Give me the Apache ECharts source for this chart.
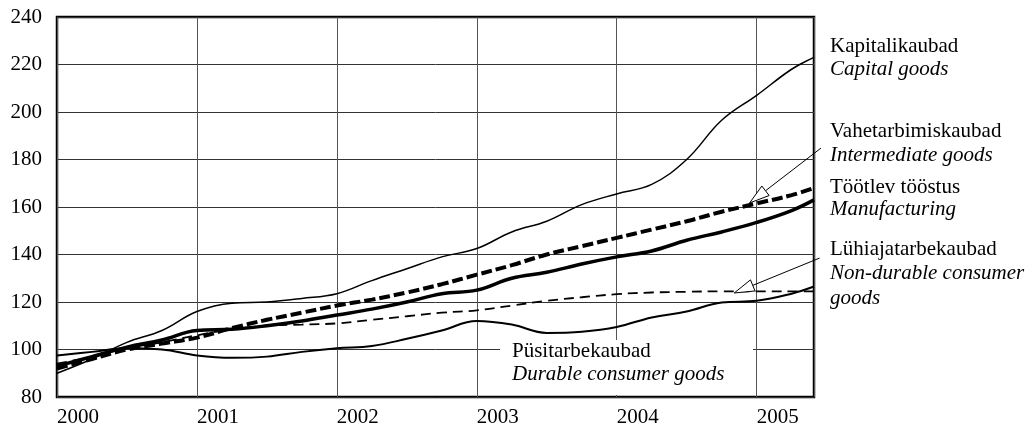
<!DOCTYPE html>
<html>
<head>
<meta charset="utf-8">
<script src="https://cdn.jsdelivr.net/npm/echarts@6/dist/echarts.min.js"></script>
<style>
  html, body { margin: 0; padding: 0; background: #fff; }
  #chart { width: 1031px; height: 436px; }
</style>
</head>
<body>
<div id="chart"></div>
<script>
// years since Jan 2000
var xs = [0, 0.25, 0.5, 0.75, 1, 1.25, 1.5, 1.75, 2, 2.25, 2.5, 2.75, 3, 3.25, 3.5, 3.75, 4, 4.25, 4.5, 4.75, 5, 5.25, 5.41];
var capital = [90, 96, 103, 108, 116, 119.5, 120, 121.5, 123.5, 129, 134, 139, 142.5, 149.5, 154, 161, 165.5, 169.5, 180, 196.5, 207, 218, 223];
var intermediate = [92, 96, 100, 102.5, 105, 109, 112.5, 115.5, 118.5, 121, 124, 127.5, 131.5, 135.5, 140, 143.5, 147, 150.5, 154, 158, 161.5, 165, 168];
var manufacturing = [93, 97, 101, 104, 108, 108.5, 110, 112, 114.5, 117, 120, 123.5, 125, 130, 132.5, 136, 139, 141.5, 146, 149.5, 153.5, 158.5, 163];
var nonDurable = [94, 97, 100.5, 103, 106, 108.5, 110, 110.5, 111, 112.5, 114, 115.5, 116.5, 118.5, 120.5, 122, 123.3, 124, 124.3, 124.5, 124.5, 124.5, 124.5];
var durable = [97.5, 99, 100.5, 100, 97.5, 96.5, 97, 99, 100.5, 101.5, 104.5, 108, 112, 110.5, 107, 107.5, 109.5, 113.5, 116, 119.8, 120.5, 123.5, 126.5];
var startYear = 2000;

var FONT = "'Liberation Serif', 'Times New Roman', serif";

function pairs(vals) {
    return vals.map(function (v, i) { return [xs[i], v]; });
}

var chartobj = echarts.init(document.getElementById('chart'));

var option = {
    animation: false,
    grid: {
        left: 57, right: 217, top: 17, bottom: 39,
        show: true, borderColor: '#000', borderWidth: 2.5
    },
    xAxis: {
        type: 'value', min: 0, max: 5.41, interval: 1,
        axisLine: { show: false },
        axisTick: { show: false },
        splitLine: { show: true, lineStyle: { color: '#555', width: 1 } },
        axisLabel: {
            color: '#000', fontFamily: FONT, fontSize: 21, margin: 10, align: 'left',
            showMaxLabel: false,
            formatter: function (v) { return Number.isInteger(v) ? String(startYear + v) : ''; }
        }
    },
    yAxis: {
        type: 'value', min: 80, max: 240, interval: 20,
        axisLine: { show: false },
        axisTick: { show: false },
        splitLine: { show: true, lineStyle: { color: '#333', width: 1 } },
        axisLabel: { color: '#000', fontFamily: FONT, fontSize: 21, margin: 15 }
    },
    series: [
        { name: 'Capital goods', type: 'line', smooth: 0.4, symbol: 'none', data: pairs(capital),
          lineStyle: { color: '#000', width: 1.5 } },
        { name: 'Intermediate goods', type: 'line', smooth: 0.4, symbol: 'none', data: pairs(intermediate),
          lineStyle: { color: '#000', width: 4, type: [11, 4] } },
        { name: 'Manufacturing', type: 'line', smooth: 0.4, symbol: 'none', data: pairs(manufacturing),
          lineStyle: { color: '#000', width: 3.5 } },
        { name: 'Non-durable consumer goods', type: 'line', smooth: 0.4, symbol: 'none', data: pairs(nonDurable),
          lineStyle: { color: '#000', width: 1.8, type: [10, 6] } },
        { name: 'Durable consumer goods', type: 'line', smooth: 0.4, symbol: 'none', data: pairs(durable),
          lineStyle: { color: '#000', width: 2 } }
    ]
};
chartobj.setOption(option);

// right-hand labels: [text, italic, x, y(middle)]
var labels = [
    ['Kapitalikaubad', false, 830, 46],
    ['Capital goods', true, 830, 69],
    ['Vahetarbimiskaubad', false, 830, 131],
    ['Intermediate goods', true, 830, 155],
    ['Töötlev tööstus', false, 830, 187],
    ['Manufacturing', true, 830, 209],
    ['Lühiajatarbekaubad', false, 830, 249],
    ['Non-durable consumer', true, 830, 273],
    ['goods', true, 830, 298],
    ['Püsitarbekaubad', false, 512, 351],
    ['Durable consumer goods', true, 512, 374]
];

// arrows from label to line, in data coords: [start, tip]
var arrows = [
    [[5.46, 184.8], [4.95, 161.7]],
    [[5.45, 138.5], [4.84, 123.8]]
];

var graphics = [{
    type: 'rect', z: 1,
    shape: { x: 500, y: 340, width: 253, height: 55 },
    style: { fill: '#fff' }
}];
labels.forEach(function (l) {
    graphics.push({
        type: 'text', z: 20,
        style: {
            text: l[0], x: l[2], y: l[3],
            font: (l[1] ? 'italic ' : '') + '21px ' + FONT,
            fill: '#000', verticalAlign: 'middle', align: 'left'
        }
    });
});
arrows.forEach(function (a) {
    var s = chartobj.convertToPixel({ gridIndex: 0 }, a[0]);
    var t = chartobj.convertToPixel({ gridIndex: 0 }, a[1]);
    var dx = t[0] - s[0], dy = t[1] - s[1];
    var len = Math.sqrt(dx * dx + dy * dy);
    var ux = dx / len, uy = dy / len;
    var bx = t[0] - ux * 20, by = t[1] - uy * 20;
    var nx = -uy * 6, ny = ux * 6;
    graphics.push({
        type: 'line', z: 20,
        shape: { x1: s[0], y1: s[1], x2: bx, y2: by },
        style: { stroke: '#000', lineWidth: 1 }
    });
    graphics.push({
        type: 'polygon', z: 20,
        shape: { points: [[t[0], t[1]], [bx + nx, by + ny], [bx - nx, by - ny]] },
        style: { fill: '#fff', stroke: '#000', lineWidth: 1 }
    });
});
chartobj.setOption({ graphic: graphics });
</script>
</body>
</html>
